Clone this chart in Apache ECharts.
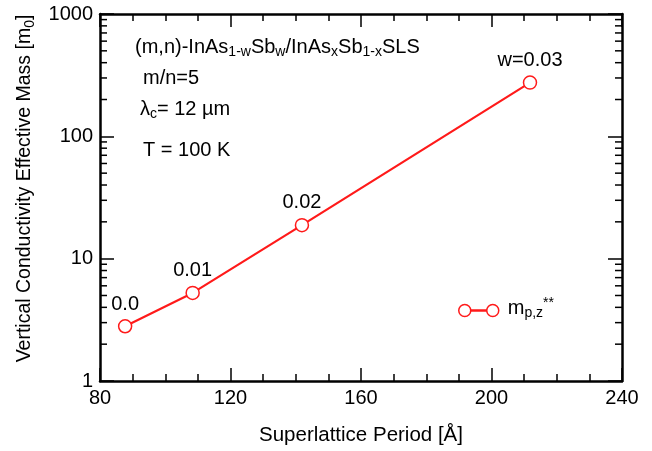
<!DOCTYPE html>
<html>
<head>
<meta charset="utf-8">
<script src="https://cdn.jsdelivr.net/npm/echarts@6/dist/echarts.min.js"></script>
<style>
html,body{margin:0;padding:0;background:#fff;}
#chart{width:652px;height:451px;}
</style>
</head>
<body>
<div id="chart"></div>
<script>
// Superlattice period (Å) and vertical conductivity effective mass (m0)
const periods = [87.7, 108.4, 141.9, 211.8];
const masses = [2.8, 5.25, 18.8, 275];
const wLabels = ['0.0', '0.01', '0.02', 'w=0.03'];

const xTicks = [80, 120, 160, 200, 240];
const yTicks = [1, 10, 100, 1000];
const yMinor = [2, 3, 4, 5, 6, 7, 8, 9, 20, 30, 40, 50, 60, 70, 80, 90, 200, 300, 400, 500, 600, 700, 800, 900];

const FONT = 'Liberation Sans, Arial, sans-serif';
const RED = '#ff1a1a';
const FS = 20;
const SUB = { fontFamily: FONT, fontSize: 14, color: '#000', fill: '#000', padding: [11, 0, 0, 0] };
const SUP = { fontFamily: FONT, fontSize: 14, color: '#000', fill: '#000', padding: [0, 0, 10, 0] };

const chart = echarts.init(document.getElementById('chart'));

const baseX = {
  type: 'value', min: xTicks[0], max: xTicks[xTicks.length - 1], interval: 40,
  axisLine: { show: true, onZero: false, lineStyle: { color: '#000', width: 2.5 } },
  axisTick: { inside: true, length: 13, lineStyle: { color: '#000', width: 1.5 } },
  minorTick: { show: true, splitNumber: 4, length: 7, lineStyle: { color: '#000', width: 1.5 } },
  splitLine: { show: false }
};
const baseY = {
  type: 'log', logBase: 10, min: yTicks[0], max: yTicks[yTicks.length - 1],
  axisLine: { show: true, onZero: false, lineStyle: { color: '#000', width: 2.5 } },
  axisTick: { inside: true, length: 14, lineStyle: { color: '#000', width: 1.5 } },
  splitLine: { show: false }
};

chart.setOption({
  animation: false,
  backgroundColor: '#fff',
  grid: { left: 100, right: 30, top: 14, bottom: 68 },
  xAxis: [
    Object.assign({}, baseX, {
      position: 'bottom',
      name: 'Superlattice Period [Å]', nameLocation: 'middle', nameGap: 44,
      nameTextStyle: { fontFamily: FONT, fontSize: 20.5, color: '#000' },
      axisLabel: { fontFamily: FONT, fontSize: FS, color: '#000', margin: 7 }
    }),
    Object.assign({}, baseX, { position: 'top', axisLabel: { show: false } })
  ],
  yAxis: [
    Object.assign({}, baseY, {
      position: 'left',
      name: 'Vertical Conductivity Effective Mass [m{sub|0}]',
      nameLocation: 'middle', nameGap: 60,
      nameTextStyle: {
        fontFamily: FONT, fontSize: 19.5, color: '#000',
        padding: [0, 0, 0, 18],
        rich: { sub: SUB }
      },
      axisLabel: { fontFamily: FONT, fontSize: FS, color: '#000', margin: 7, formatter: (v) => String(v) }
    }),
    Object.assign({}, baseY, { position: 'right', axisLabel: { show: false } })
  ],
  series: [
    {
      type: 'line',
      data: periods.map((p, i) => [p, masses[i]]),
      symbol: 'circle', symbolSize: 13,
      lineStyle: { color: RED, width: 2.2 },
      itemStyle: { color: '#fff', borderColor: RED, borderWidth: 1.5 },
      label: {
        show: true, position: 'top', distance: 5,
        fontFamily: FONT, fontSize: FS, color: '#000',
        formatter: (p) => wLabels[p.dataIndex]
      },
      z: 5
    },
    {
      // minor log ticks on the left and right frame edges
      type: 'custom',
      data: yMinor.map(v => [xTicks[0], v]),
      silent: true,
      clip: false,
      renderItem: function (params, api) {
        const v = api.value(1);
        const a = api.coord([xTicks[0], v]);
        const b = api.coord([xTicks[xTicks.length - 1], v]);
        const style = { stroke: '#000', lineWidth: 1.5 };
        return {
          type: 'group',
          children: [
            { type: 'line', shape: { x1: a[0], y1: a[1], x2: a[0] + 7, y2: a[1] }, style: style },
            { type: 'line', shape: { x1: b[0] - 7, y1: b[1], x2: b[0], y2: b[1] }, style: style }
          ]
        };
      }
    }
  ],
  graphic: [
    {
      type: 'text', left: 135, top: 37,
      style: {
        text: '(m,n)-InAs{sub|1-w}Sb{sub|w}/InAs{sub|x}Sb{sub|1-x}SLS',
        fontFamily: FONT, fontSize: FS, fill: '#000',
        rich: { sub: SUB }
      }
    },
    {
      type: 'text', left: 143, top: 68,
      style: { text: 'm/n=5', fontFamily: FONT, fontSize: FS, fill: '#000' }
    },
    {
      type: 'text', left: 140, top: 99,
      style: {
        text: 'λ{sub|c}= 12 µm',
        fontFamily: FONT, fontSize: FS, fill: '#000',
        rich: { sub: SUB }
      }
    },
    {
      type: 'text', left: 143, top: 140,
      style: { text: 'T = 100 K', fontFamily: FONT, fontSize: FS, fill: '#000' }
    },
    {
      // legend entry
      type: 'group', left: 458, top: 296,
      children: [
        { type: 'line', shape: { x1: 7, y1: 15, x2: 35, y2: 15 }, style: { stroke: RED, lineWidth: 2.5 } },
        { type: 'circle', shape: { cx: 7, cy: 15, r: 6 }, style: { fill: '#fff', stroke: RED, lineWidth: 1.5 } },
        { type: 'circle', shape: { cx: 35, cy: 15, r: 6 }, style: { fill: '#fff', stroke: RED, lineWidth: 1.5 } },
        {
          type: 'text', x: 50, y: 0,
          style: {
            text: 'm{sub|p,z}{sup|**}',
            fontFamily: FONT, fontSize: FS, fill: '#000',
            rich: { sub: SUB, sup: SUP }
          }
        }
      ]
    }
  ]
});
</script>
</body>
</html>
